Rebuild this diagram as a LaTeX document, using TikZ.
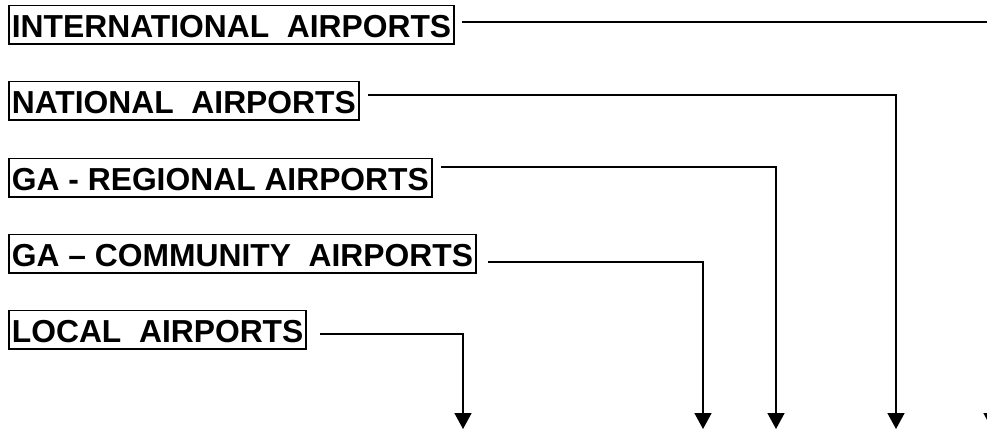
\documentclass[tikz,border=0pt]{standalone}
\usepackage{fontspec}
\setmainfont{Liberation Sans}
\usetikzlibrary{arrows.meta}
\begin{document}
\begin{tikzpicture}[x=1pt,y=-1pt,
  levelbox/.style={draw, line width=1.8pt, anchor=base west, inner xsep=3pt, inner ysep=1.5pt,
    text height=30pt, text depth=5.5pt, font=\fontsize{31.8}{34}\selectfont\bfseries},
  feed/.style={line width=1.5pt, -{Triangle[width=17pt,length=16pt]}}]
  \clip (0,0) rectangle (987,431);
  \useasboundingbox (0,0) rectangle (987,431);

  % category boxes
  \node[levelbox] (intl) at (8,37)  {INTERNATIONAL\ \ AIRPORTS};
  \node[levelbox] (natl) at (8,113) {NATIONAL\ \ AIRPORTS};
  \node[levelbox] (regl) at (8,190) {GA - REGIONAL AIRPORTS};
  \node[levelbox] (comm) at (8,266) {GA – COMMUNITY\ \ AIRPORTS};
  \node[levelbox] (locl) at (8,342) {LOCAL\ \ AIRPORTS};

  % start points of the feeder lines
  \coordinate (sintl) at (462,22);
  \coordinate (snatl) at (368,95);
  \coordinate (sregl) at (441,167);
  \coordinate (scomm) at (488,262);
  \coordinate (slocl) at (320,334);

  % arrow tips along the bottom
  \coordinate (tintl) at (992,429);
  \coordinate (tnatl) at (896,429);
  \coordinate (tregl) at (776,429);
  \coordinate (tcomm) at (703,429);
  \coordinate (tlocl) at (463,429);

  \draw[feed] (sintl) -| (tintl);
  \draw[feed] (snatl) -| (tnatl);
  \draw[feed] (sregl) -| (tregl);
  \draw[feed] (scomm) -| (tcomm);
  \draw[feed] (slocl) -| (tlocl);
\end{tikzpicture}
\end{document}
